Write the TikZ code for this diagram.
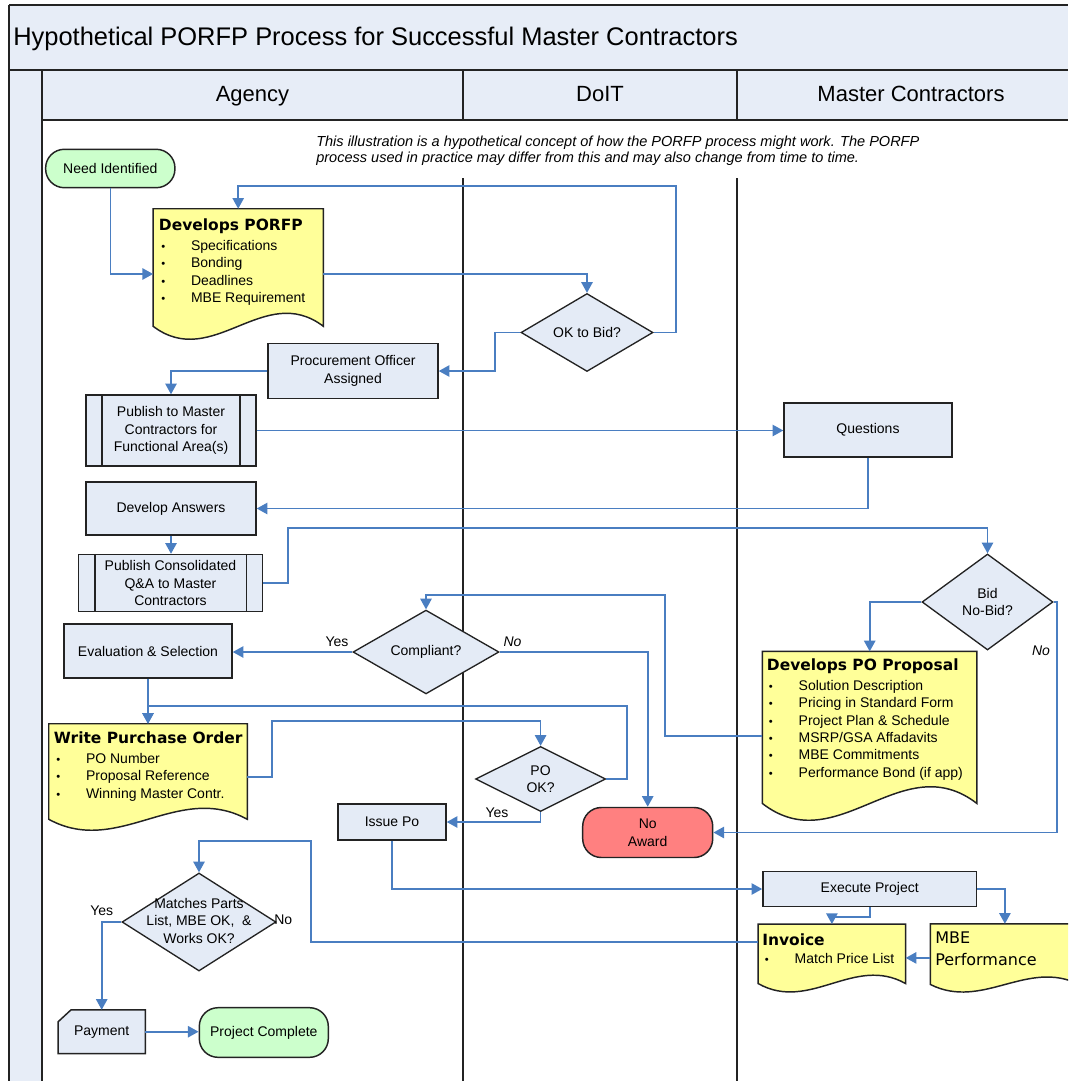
\documentclass[tikz,border=0pt]{standalone}
\usepackage{fontspec}
\usepackage{graphicx}
\setmainfont{Liberation Sans}
\newfontfamily\djv{DejaVu Sans}
\usetikzlibrary{shapes.geometric,arrows.meta,calc}
\definecolor{lanefill}{RGB}{231,237,247}
\definecolor{boxfill}{RGB}{228,235,246}
\definecolor{docfill}{RGB}{255,255,153}
\definecolor{termgreen}{RGB}{204,255,204}
\definecolor{termred}{RGB}{255,128,128}
\definecolor{connblue}{RGB}{74,126,193}
\definecolor{edgecol}{RGB}{35,35,35}

\newcommand\boxfont{\fontsize{10.5pt}{13.125pt}\selectfont}
\newcommand\listfont{\fontsize{10.5pt}{13.05pt}\selectfont}
\newcommand\doctitlefont{\djv\bfseries\fontsize{11.6pt}{14pt}\selectfont}
\newcommand\notefont{\itshape\fontsize{10.9pt}{12pt}\selectfont}
\newcommand\bitem[1]{\strut\makebox[22.3pt][l]{\scalebox{0.8}{\textbullet}}#1}

\newcommand\docoutline[3]{%
  \path ([yshift=#2*0.75pt]#1.south east) coordinate (#1-r)
        ([yshift=#2*0.75pt]#1.south west) coordinate (#1-l);
  \draw[docline] (#1.north west) -- (#1.north east) -- (#1-r)
     .. controls ($(#1-r)!0.35!(#1-l)+(0,-#3)$) and ($(#1-l)!0.35!(#1-r)+(0,#3)$) .. (#1-l) -- cycle;
}

\tikzset{
  sz/.style 2 args={minimum width=#1*0.75pt, minimum height=#2*0.75pt},
  box/.style={draw=edgecol, fill=boxfill, line width=1.1pt, align=center, font=\boxfont, inner sep=0pt},
  term/.style={box, rounded corners=14pt},
  dia/.style={diamond, draw=edgecol, fill=boxfill, line width=1pt, align=center, font=\boxfont, inner sep=0pt},
  docarea/.style={inner sep=0pt, draw=none},
  docline/.style={draw=edgecol, fill=docfill, line width=1.1pt},
  shapeline/.style={draw=edgecol, fill=boxfill, line width=1.1pt},
  conn/.style={draw=connblue, line width=1.2pt, -{Triangle[length=8pt,width=8.5pt]}},
  frame/.style={draw=edgecol, line width=0.9pt},
  lbl/.style={font=\boxfont, inner sep=0pt},
  txt/.style={inner sep=0pt, align=left},
}

\begin{document}
\begin{tikzpicture}[x=0.75pt,y=-0.75pt]
\useasboundingbox (0,0) rectangle (1068,1081);
\clip (0,0) rectangle (1068,1081);

% ---------- frame ----------
\fill[lanefill] (9,5) rectangle (1068,70);
\fill[lanefill] (9,70) rectangle (42,1081);
\fill[lanefill] (42,70) rectangle (1068,120);
\draw[frame] (9,5) -- (1068,5);
\draw[frame] (9,5) -- (9,1081);
\draw[frame, line width=2pt] (9,70) -- (1068,70);
\draw[frame] (42,70) -- (42,1081);
\draw[frame] (42,120) -- (1068,120);
\draw[frame] (463,70) -- (463,120);
\draw[frame] (737,70) -- (737,120);
\draw[frame] (463,178) -- (463,1081);
\draw[frame] (737,178) -- (737,1081);

\node[anchor=base west, inner sep=0pt, font=\fontsize{19.1pt}{22pt}\selectfont] (title) at (13,45.5) {Hypothetical PORFP Process for Successful Master Contractors};
\node[anchor=base, inner sep=0pt, font=\fontsize{16.5pt}{20pt}\selectfont] (hA) at (252.5,102) {Agency};
\node[anchor=base, inner sep=0pt, font=\fontsize{16.5pt}{20pt}\selectfont] (hD) at (600,102) {DoIT};
\node[anchor=base, inner sep=0pt, font=\fontsize{16.5pt}{20pt}\selectfont] (hM) at (911,102) {Master Contractors};

\node[txt, anchor=north west, font=\notefont] (note) at (316,134.8)
  {\strut This illustration is a hypothetical concept of how the PORFP process might work. The PORFP\\
   \strut process used in practice may differ from this and may also change from time to time.};

% ---------- nodes ----------
\node[term, fill=termgreen, sz={129.3}{38.4}] (need) at (110.3,168.5) {Need Identified};

\node[docarea, sz={169.7}{130}] (dev) at (238.2,274) {};
\docoutline{dev}{13}{45}
\node[anchor=base west, inner sep=0pt, font=\doctitlefont] (devT) at (158.7,230.5) {Develops PORFP};
\node[txt, anchor=north west, font=\listfont] (devL) at (161,237.8)
  {\bitem{Specifications}\\\bitem{Bonding}\\\bitem{Deadlines}\\\bitem{MBE Requirement}};

\node[dia, sz={132}{65}] (okbid) at (587,332.5) {OK to Bid?};
\node[box, sz={170}{55}] (proc) at (353,371) {Procurement Officer\\Assigned};

\node[box, sz={170}{71}] (pub1) at (171,430.5) {Publish to Master\\Contractors for\\Functional Area(s)};
\draw[frame, line width=1.1pt] ([xshift=16.7*0.75pt]pub1.north west) -- ([xshift=16.7*0.75pt]pub1.south west);
\draw[frame, line width=1.1pt] ([xshift=-16.7*0.75pt]pub1.north east) -- ([xshift=-16.7*0.75pt]pub1.south east);

\node[box, sz={168}{54}] (ques) at (868,430) {Questions};
\node[box, sz={170}{53}] (dans) at (171,508.5) {Develop Answers};

\node[box, sz={184}{57}] (pub2) at (170.5,583) {Publish Consolidated\\Q\&A to Master\\Contractors};
\draw[frame, line width=1.1pt] ([xshift=17*0.75pt]pub2.north west) -- ([xshift=17*0.75pt]pub2.south west);
\draw[frame, line width=1.1pt] ([xshift=-17*0.75pt]pub2.north east) -- ([xshift=-17*0.75pt]pub2.south east);

\node[dia, sz={131}{96}] (bid) at (987.5,602) {Bid\\No-Bid?};
\node[dia, sz={146}{81}] (comp) at (426,652) {Compliant?};
\node[box, sz={168}{54}] (eval) at (148,651) {Evaluation \& Selection};

\node[docarea, sz={214}{168.3}] (prop) at (869.7,735.8) {};
\docoutline{prop}{16.7}{58}
\node[anchor=base west, inner sep=0pt, font=\doctitlefont] (propT) at (766.7,670) {Develops PO Proposal};
\node[txt, anchor=north west, font=\listfont] (propL) at (768.7,677.8)
  {\bitem{Solution Description}\\\bitem{Pricing in Standard Form}\\\bitem{Project Plan \& Schedule}\\
   \bitem{MSRP/GSA Affadavits}\\\bitem{MBE Commitments}\\\bitem{Performance Bond (if app)}};

\node[docarea, sz={198}{106}] (wpo) at (148,777) {};
\docoutline{wpo}{11}{38}
\node[anchor=base west, inner sep=0pt, font=\doctitlefont] (wpoT) at (53.6,743) {Write Purchase Order};
\node[txt, anchor=north west, font=\listfont] (wpoL) at (56,750.8)
  {\bitem{PO Number}\\\bitem{Proposal Reference}\\\bitem{Winning Master Contr.}};

\node[dia, sz={130}{65}] (pook) at (540.6,779) {PO\\OK?};
\node[box, sz={108}{36}] (issue) at (392,822) {Issue Po};
\node[term, fill=termred, sz={130}{50}] (noaw) at (647.7,832.5) {No\\Award};
\node[box, sz={213.5}{35}] (exec) at (869.7,889) {Execute Project};

\node[docarea, sz={147}{67.4}] (inv) at (831.9,958) {};
\docoutline{inv}{8.4}{29}
\node[anchor=base west, inner sep=0pt, font=\doctitlefont] (invT) at (762,945) {Invoice};
\node[txt, anchor=north west, font=\listfont] (invL) at (764.7,950.8) {\bitem{Match Price List}};

\node[docarea, sz={148.4}{67.7}] (mbe) at (1004.9,957.9) {};
\docoutline{mbe}{7.5}{26}
\node[txt, anchor=north west, font=\djv\fontsize{12pt}{16.3pt}\selectfont] (mbeT) at (935,927.9) {\strut MBE\\\strut Performance};

\node[dia, sz={154}{98}] (match) at (199,922) {};
\node[lbl, align=center] (matchT) at (199,920.5) {Matches Parts\\List, MBE OK,\ \ \&\\Works OK?};

\node[docarea, sz={86.7}{43.3}] (pay) at (101.7,1031.7) {};
\draw[shapeline] ([xshift=13*0.75pt]pay.north west) -- (pay.north east) -- (pay.south east) -- (pay.south west) -- ([yshift=-12*0.75pt]pay.north west) -- cycle;
\node[lbl] (payT) at (pay) {Payment};

\node[term, fill=termgreen, sz={129}{49.6}] (done) at (263.8,1032.5) {Project Complete};

% ---------- connectors ----------
\draw[conn] (need.south) |- (dev.west);
\draw[conn] (dev.east) -| (okbid.north);
\draw[conn] (okbid.east) -| (676,186) -| (dev.north);
\draw[conn] (okbid.west) -| (495,371) -- (proc.east);
\draw[conn] (proc.west) -| (pub1.north);
\draw[conn] (pub1.east) -- (pub1.east -| ques.west);
\draw[conn] (ques.south) |- (dans.east);
\draw[conn] (dans.south) -- (dans.south |- pub2.north);
\draw[conn] (pub2.east) -| (288,528) -| (bid.north);
\draw[conn] (bid.west) -| (prop.north);
\draw[conn] (bid.east) -| (1057,832.5) -- (noaw.east);
\draw[conn] (prop.west) -| (665,595) -| (comp.north);
\draw[conn] (comp.west) -- (comp.west -| eval.east);
\draw[conn] (comp.east) -| (noaw.north);
\draw[conn] (eval.south) -- (wpo.north);
\draw[conn] (pook.east) -| (627,706) -| (wpo.north);
\draw[conn] (wpo.east) -| (272,721) -| (pook.north);
\draw[conn] (pook.south) |- (issue.east);
\draw[conn] (issue.south) |- (exec.west);
\draw[conn] (exec.south) |- ($(inv.north)+(0,-7)$) -- (inv.north);
\draw[conn] (exec.east) -| (mbe.north);
\draw[conn] (mbe.west) -- (mbe.west -| inv.east);
\draw[conn] ($(inv.north west)+(0,18)$) -| (311,841) -| (match.north);
\draw[conn] (match.west) -| (pay.north);
\draw[conn] (pay.east) -- (pay.east -| done.west);

% ---------- labels ----------
\node[lbl] (yComp) at (337,641.7) {Yes};
\node[lbl, font=\boxfont\itshape] (nComp) at (512.5,641.7) {No};
\node[lbl, font=\boxfont\itshape] (nBid) at (1041,650.7) {No};
\node[lbl] (yPo) at (497,812.3) {Yes};
\node[lbl] (yMatch) at (101.7,910.7) {Yes};
\node[lbl] (nMatch) at (283.3,920) {No};
\end{tikzpicture}
\end{document}
